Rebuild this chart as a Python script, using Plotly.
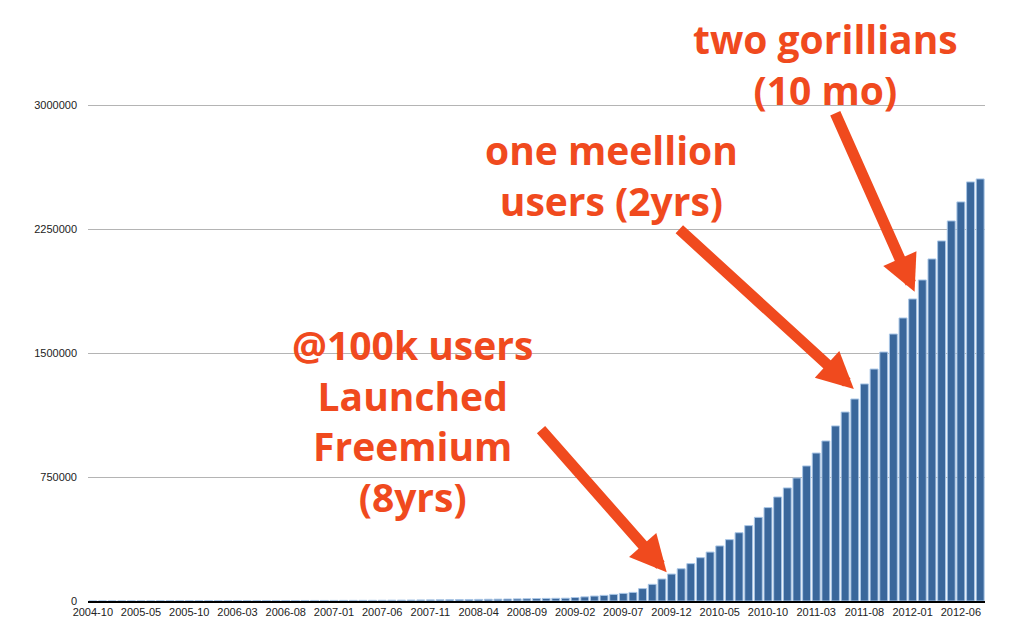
import plotly.graph_objects as go

# month buckets: the export starts at 2004-10, then runs monthly from 2005-01
months = ["2004-10"] + [f"{y}-{m:02d}" for y in range(2005, 2013) for m in range(1, 13)][:92]

users = [
    200, 350, 500, 600, 750, 900, 1000, 1150, 1300, 1400,
    1550, 1700, 1800, 1950, 2100, 2200, 2350, 2500, 2600, 2750,
    2900, 3000, 3150, 3300, 3400, 3550, 3700, 3850, 4000, 4200,
    4500, 5000, 5400, 5900, 6400, 6900, 7400, 8000, 8600, 9200,
    9800, 10500, 11200, 12000, 12800, 13700, 14600, 15600, 16300, 17000,
    21000, 25000, 30000, 34000, 40000, 46000, 52000, 75000, 101000, 133000,
    163000, 195000, 226000, 262000, 296000, 333000, 371000, 413000, 456000, 506000,
    565000, 629000, 684000, 744000, 817000, 895000, 968000, 1059000, 1143000, 1222000,
    1313000, 1403000, 1506000, 1615000, 1712000, 1827000, 1942000, 2069000, 2178000, 2299000,
    2414000, 2535000, 2553000,
]

y_ticks = [0, 750000, 1500000, 2250000, 3000000]
x_ticks = months[::5]

ORANGE = "#F04A1E"
BAR = "#3A679B"

fig = go.Figure(go.Bar(
    x=months,
    y=users,
    marker=dict(color=BAR, line=dict(color="#A9C6E6", width=1)),
    hoverinfo="skip",
))

label_font = dict(family="Open Sans", size=39, color=ORANGE, weight="bold")

notes = [
    ("two gorillians<br>(10 mo)", 0.822, 0.909),
    ("one meellion<br>users (2yrs)", 0.584, 0.721),
    ("@100k users<br>Launched<br>Freemium<br>(8yrs)", 0.362, 0.306),
]
for text, px, py in notes:
    fig.add_annotation(text=text, x=px, y=py, xref="paper", yref="paper",
                       xanchor="center", yanchor="middle", showarrow=False,
                       font=label_font)

# arrows: (bar index they point at, height of tip, tail offset in px)
arrows = [
    (59.5, users[60] * 1.07, -127, -144),
    (78.9, users[79] * 1.05, -176, -161),
    (85.2, users[86] * 0.963, -80, -180),
]
for xi, yv, ax, ay in arrows:
    fig.add_annotation(x=xi, y=yv, xref="x", yref="y", text="",
                       showarrow=True, ax=ax, ay=ay,
                       arrowhead=2, arrowsize=0.66, arrowwidth=11,
                       arrowcolor=ORANGE, standoff=0)

fig.update_layout(
    width=1024,
    height=642,
    margin=dict(l=88, r=39, t=10, b=41),
    plot_bgcolor="white",
    paper_bgcolor="white",
    font=dict(family="Liberation Sans", size=11, color="#222"),
    bargap=0.18,
    showlegend=False,
    hovermode=False,
    xaxis=dict(
        type="category",
        tickvals=x_ticks,
        ticktext=x_ticks,
        tickangle=0,
        showgrid=False,
        showline=True,
        linecolor="black",
        linewidth=1.5,
        ticks="",
        tickfont=dict(size=11, color="#222"),
    ),
    yaxis=dict(
        range=[0, 3575000],
        tickvals=y_ticks,
        ticktext=[str(v) for v in y_ticks],
        gridcolor="#b4b4b4",
        gridwidth=1,
        zeroline=False,
        showline=False,
        ticks="",
        ticklabelstandoff=10,
        tickfont=dict(size=11, color="#222"),
    ),
)

fig.write_html("out.html", config={"displayModeBar": False},
               post_script="document.body.style.margin='0';")
